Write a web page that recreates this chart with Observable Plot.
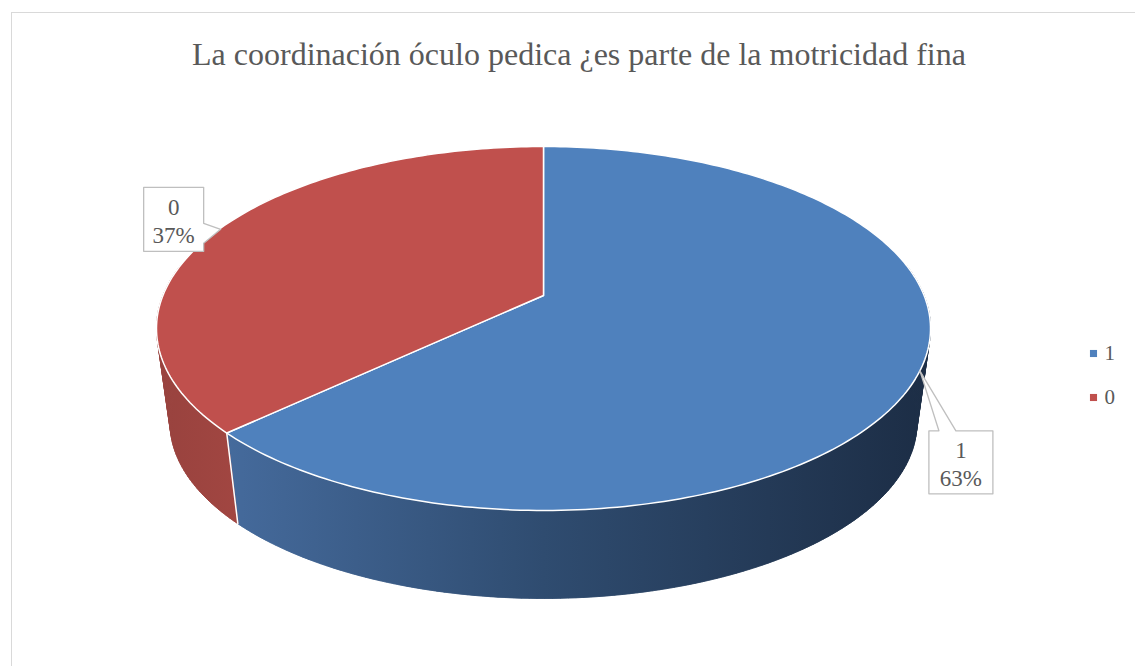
<!DOCTYPE html>
<html><head><meta charset="utf-8">
<script src="https://cdn.jsdelivr.net/npm/d3@7"></script>
<script src="https://cdn.jsdelivr.net/npm/@observablehq/plot@0.6"></script>
<style>
body{margin:0;background:#fff;width:1135px;height:666px;overflow:hidden;position:relative;font-family:"Liberation Serif","Times New Roman",Times,serif}
#frame{position:absolute;left:11px;top:12px;width:1140px;height:670px;border:1.5px solid #d9d9d9;box-sizing:border-box}
#title{position:absolute;left:0;width:1158px;top:38px;text-align:center;font-size:32px;line-height:32px;color:#595959;white-space:nowrap}
#chart{position:absolute;left:0;top:0}
</style></head><body>
<div id="frame"></div>
<div id="title">La coordinación óculo pedica ¿es parte de la motricidad fina</div>
<div id="chart"></div>
<script>
// ---- data ----
const categories = ["1", "0"];
const percents = [63, 37];

// ---- styles ----
const topColors = ["#4f81bd", "#c0504d"];
const wallFills = ["url(#wallBlue)", "url(#wallRed)"];
const textColor = "#595959";
const font = "'Liberation Serif', 'Times New Roman', Times, serif";

// ---- 3D projection (normalized units) ----
const C = -0.1813, S = 0.965, DY = 95.5 / 176;
const rad = d => d * Math.PI / 180;
function topPt(t) { const u = Math.sin(rad(t)), v = -Math.cos(rad(t)), w = 1 + C * v; return {x: u / w, y: v / w}; }
function botPt(t) { const u = Math.sin(rad(t)), v = -Math.cos(rad(t)), w = 1 + C * v; return {x: S * u / w, y: DY + S * v / w}; }
const xRange = [543 - 380.6, 543 + 380.6], yRange = [295 - 176, 295 + 176];
const xs = d3.scaleLinear([-1, 1], xRange), ys = d3.scaleLinear([-1, 1], yRange);
const P = (px, py) => ({x: xs.invert(px), y: ys.invert(py)});

const total = d3.sum(percents);
let acc = 0;
const slices = categories.map((c, i) => {
  const a0 = acc / total * 360; acc += percents[i]; const a1 = acc / total * 360;
  return {c, v: percents[i], a0, a1, mid: (a0 + a1) / 2, color: topColors[i], wall: wallFills[i]};
});
function arcAngles(a0, a1) { const n = Math.max(2, Math.ceil(a1 - a0)); return d3.range(n + 1).map(k => a0 + (a1 - a0) * k / n); }

const marks = [];
// side walls: one polygon underneath, then swept quads for the silhouette
slices.forEach((s, i) => {
  const lo = Math.max(s.a0, 80), hi = Math.min(s.a1, 280);
  if (hi > lo) {
    const ts = arcAngles(lo, hi);
    const poly = [...ts.map(topPt), ...ts.slice().reverse().map(botPt)];
    marks.push(Plot.line(poly, {x: "x", y: "y", curve: "linear-closed", fill: s.wall, stroke: s.wall, strokeWidth: 0.5}));
    const quads = [];
    for (let k = 0; k < ts.length - 1; k++) {
      [topPt(ts[k]), topPt(ts[k + 1]), botPt(ts[k + 1]), botPt(ts[k])].forEach(p => quads.push({...p, q: k}));
    }
    marks.push(Plot.line(quads, {x: "x", y: "y", z: "q", curve: "linear-closed", fill: s.wall, stroke: s.wall, strokeWidth: 0.6}));
  }
});
// separators on walls
slices.forEach(s => {
  if (s.a0 > 80 && s.a0 < 280) marks.push(Plot.line([topPt(s.a0), botPt(s.a0)], {x: "x", y: "y", stroke: "white", strokeWidth: 1.5}));
});
// top faces
slices.forEach(s => {
  const pts = [{x: 0, y: 0}, ...arcAngles(s.a0, s.a1).map(topPt)];
  marks.push(Plot.line(pts, {x: "x", y: "y", curve: "linear-closed", fill: s.color, stroke: "white", strokeWidth: 1.5, strokeLinejoin: "round"}));
});

// callout labels
const callouts = [], labelPos = [];
slices.forEach((s, i) => {
  const t = topPt(s.mid), tx = xs(t.x), ty = ys(t.y);
  let poly, cx, cy;
  if (i === 0) {
    const L = tx + 9, T = ty + 60, R = tx + 73, B = ty + 123;
    poly = [[L, T], [L + 10, T], [tx, ty], [L + 27, T], [R, T], [R, B], [L, B]];
    cx = (L + R) / 2; cy = (T + B) / 2;
  } else {
    const L = tx - 74, T = ty - 43, R = tx - 14, B = ty + 21;
    poly = [[L, T], [R, T], [R, ty - 7], [tx + 3, ty - 1], [R, ty + 13], [R, B], [L, B]];
    cx = (L + R) / 2; cy = (T + B) / 2;
  }
  poly.forEach(([a, b]) => callouts.push({...P(a, b), k: i}));
  labelPos.push({...P(cx, cy), text: `${s.c}\n${Math.round(100 * s.v / total)}%`});
});
marks.push(Plot.line(callouts, {x: "x", y: "y", z: "k", curve: "linear-closed", fill: "white", stroke: "#bfbfbf", strokeWidth: 1.3}));
marks.push(Plot.text(labelPos, {x: "x", y: "y", text: "text", fill: textColor, fontSize: 23, fontFamily: font, lineHeight: 1.2, dy: 1}));

// legend
const legend = slices.map((s, i) => ({...P(1093, 353 + i * 44), c: s.c, color: s.color}));
marks.push(Plot.dot(legend, {x: "x", y: "y", symbol: "square", r: 4, fill: d => d.color, stroke: "none"}));
marks.push(Plot.text(legend, {x: "x", y: "y", text: "c", dx: 11, textAnchor: "start", fill: textColor, fontSize: 21, fontFamily: font}));

const plot = Plot.plot({
  width: 1135, height: 666, margin: 0,
  x: {domain: [-1, 1], range: xRange, axis: null},
  y: {domain: [-1, 1], range: yRange, axis: null},
  style: {background: "transparent", overflow: "visible", fontFamily: font},
  marks
});
const gx1 = xs(-1.017), gx2 = xs(1.017);
d3.select(plot).insert("defs", ":first-child").html(`
  <linearGradient id="wallBlue" gradientUnits="userSpaceOnUse" x1="${gx1}" x2="${gx2}" y1="0" y2="0">
    <stop offset="0" stop-color="#4a73a4"/>
    <stop offset="0.11" stop-color="#44699a"/>
    <stop offset="0.5" stop-color="#2f4c70"/>
    <stop offset="1" stop-color="#1c2d45"/>
  </linearGradient>
  <linearGradient id="wallRed" gradientUnits="userSpaceOnUse" x1="${gx1}" x2="${xs(-0.7)}" y1="0" y2="0">
    <stop offset="0" stop-color="#98423e"/>
    <stop offset="1" stop-color="#a64843"/>
  </linearGradient>`);
document.getElementById("chart").append(plot);
</script>
</body></html>
